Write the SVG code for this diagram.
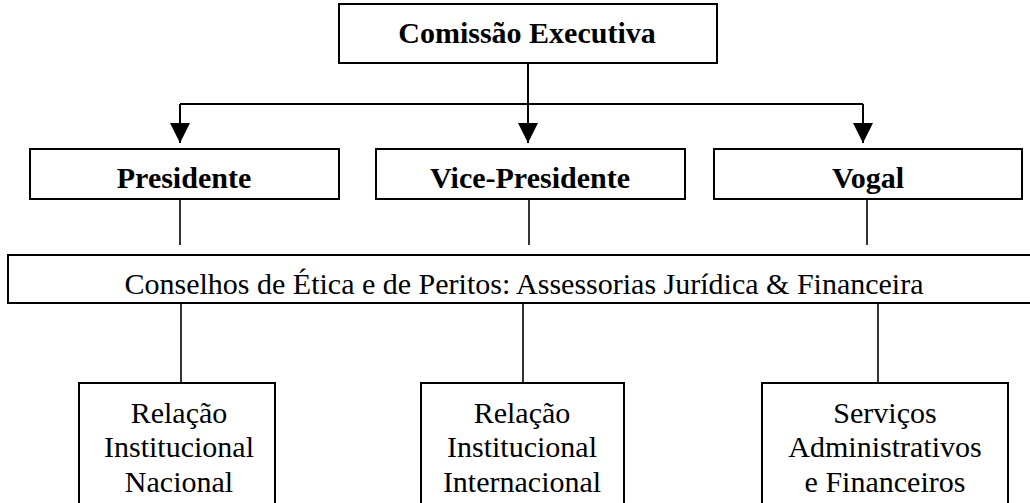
<svg xmlns="http://www.w3.org/2000/svg" width="1030" height="503" viewBox="0 0 1030 503">
<style>
.box{fill:#fff;stroke:#000;stroke-width:2}
.ln{stroke:#000;stroke-width:2;fill:none}
.ln2{stroke:#000;stroke-width:1.6;fill:none}
text{font-family:'Liberation Serif',serif;font-size:30px;text-anchor:middle;fill:#000}
.b{font-weight:bold}
</style>
<defs>
<marker id="ah" markerWidth="20" markerHeight="20" refX="20" refY="10" orient="auto" markerUnits="userSpaceOnUse">
<path d="M0,0 L20,10 L0,20 Z" fill="#000"/>
</marker>
</defs>
<rect width="1030" height="503" fill="#fff"/>
<g id="connectors">
<path class="ln" d="M528,63 V104"/>
<path class="ln" d="M180,104 H863"/>
<path class="ln" d="M180,104 V143" marker-end="url(#ah)"/>
<path class="ln" d="M528,104 V143" marker-end="url(#ah)"/>
<path class="ln" d="M863,104 V143" marker-end="url(#ah)"/>
<path class="ln2" d="M180,199 V245"/>
<path class="ln2" d="M529,199 V245"/>
<path class="ln2" d="M867,199 V245"/>
<path class="ln2" d="M181,303 V383"/>
<path class="ln2" d="M523,303 V383"/>
<path class="ln2" d="M878,303 V383"/>
</g>
<g id="comissao">
<rect class="box" x="339" y="4" width="378" height="59"/>
<text class="b" x="527" y="43">Comissão Executiva</text>
</g>
<g id="presidente">
<rect class="box" x="30" y="149" width="309" height="50"/>
<text class="b" x="184" y="188">Presidente</text>
</g>
<g id="vice">
<rect class="box" x="376" y="149" width="309" height="50"/>
<text class="b" x="530" y="188">Vice-Presidente</text>
</g>
<g id="vogal">
<rect class="box" x="714" y="149" width="308" height="50"/>
<text class="b" x="868" y="188">Vogal</text>
</g>
<g id="conselhos">
<rect class="box" x="8" y="255" width="1032" height="48"/>
<text x="524" y="294">Conselhos de Ética e de Peritos: Assessorias Jurídica &amp; Financeira</text>
</g>
<g id="nacional">
<rect class="box" x="79" y="383" width="196" height="130"/>
<text x="179" y="423">Relação</text>
<text x="179" y="457">Institucional</text>
<text x="179" y="492">Nacional</text>
</g>
<g id="internacional">
<rect class="box" x="421" y="383" width="203" height="130"/>
<text x="522" y="423">Relação</text>
<text x="522" y="457">Institucional</text>
<text x="522" y="492">Internacional</text>
</g>
<g id="servicos">
<rect class="box" x="762" y="383" width="246" height="130"/>
<text x="885" y="423">Serviços</text>
<text x="885" y="457">Administrativos</text>
<text x="885" y="492">e Financeiros</text>
</g>
</svg>
